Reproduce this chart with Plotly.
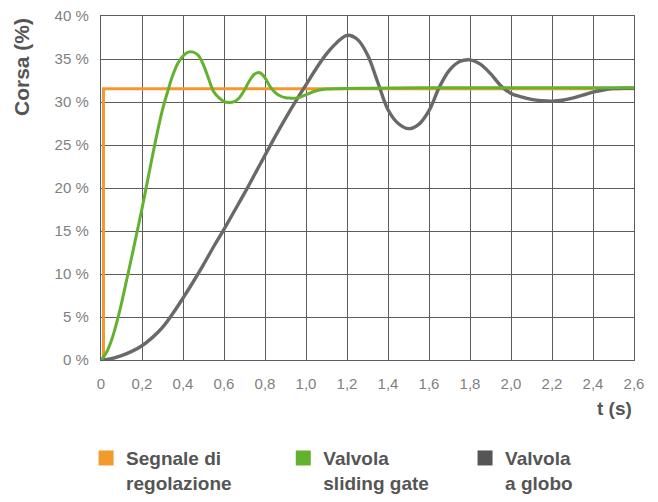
import plotly.graph_objects as go

# ---- data ----
t_signal = [0, 0.012, 0.012, 2.6]
v_signal = [0, 0, 31.55, 31.55]

t_gate = [0, 0.025, 0.05, 0.075, 0.1, 0.125, 0.15, 0.175, 0.2, 0.225, 0.25, 0.275,
          0.3, 0.325, 0.35, 0.375, 0.4, 0.425, 0.45, 0.475, 0.5, 0.525, 0.55, 0.575,
          0.6, 0.625, 0.65, 0.675, 0.7, 0.725, 0.75, 0.775, 0.8, 0.825, 0.85, 0.875,
          0.9, 0.925, 0.95, 0.975, 1.0, 1.05, 1.1, 1.15, 1.3, 1.6, 2.0, 2.6]
v_gate = [0, 0.8, 2.2, 4.2, 6.6, 9.3, 12.0, 14.8, 17.6, 20.6, 23.6, 26.5,
          29.1, 31.2, 33.1, 34.5, 35.35, 35.8, 35.8, 35.4, 34.3, 32.7, 31.2, 30.5,
          30.05, 29.95, 30.05, 30.5, 31.4, 32.5, 33.25, 33.4, 32.8, 31.8, 31.1, 30.7,
          30.5, 30.45, 30.45, 30.6, 30.85, 31.3, 31.5, 31.55, 31.6, 31.65, 31.65, 31.65]

t_globe = [0, 0.05, 0.1, 0.15, 0.2, 0.25, 0.3, 0.35, 0.4, 0.45, 0.5, 0.55, 0.6,
           0.65, 0.7, 0.75, 0.8, 0.85, 0.9, 0.95, 1.0, 1.05, 1.1, 1.15, 1.2, 1.25,
           1.3, 1.35, 1.4, 1.45, 1.5, 1.55, 1.6, 1.65, 1.7, 1.75, 1.8, 1.85, 1.9,
           1.95, 2.0, 2.05, 2.1, 2.15, 2.2, 2.25, 2.3, 2.35, 2.4, 2.45, 2.5, 2.55, 2.6]
v_globe = [0, 0.15, 0.5, 1.0, 1.66, 2.6, 3.8, 5.4, 7.2, 9.1, 11.1, 13.2, 15.2,
           17.3, 19.4, 21.6, 23.8, 26.0, 28.1, 30.1, 32.0, 33.9, 35.6, 36.9, 37.75, 37.3,
           35.5, 32.3, 29.1, 27.5, 26.9, 27.4, 29.0, 31.7, 33.7, 34.7, 34.9, 34.4, 33.3,
           31.9, 31.0, 30.6, 30.3, 30.15, 30.1, 30.2, 30.45, 30.8, 31.15, 31.4, 31.55, 31.6, 31.6]

x_ticks = [0, 0.2, 0.4, 0.6, 0.8, 1.0, 1.2, 1.4, 1.6, 1.8, 2.0, 2.2, 2.4, 2.6]
x_labels = ["0", "0,2", "0,4", "0,6", "0,8", "1,0", "1,2", "1,4", "1,6", "1,8",
            "2,0", "2,2", "2,4", "2,6"]
y_ticks = [0, 5, 10, 15, 20, 25, 30, 35, 40]
y_labels = ["0 %", "5 %", "10 %", "15 %", "20 %", "25 %", "30 %", "35 %", "40 %"]

names = ["Segnale di<br>regolazione", "Valvola<br>sliding gate", "Valvola<br>a globo"]
line_colors = ["#F7962E", "#62B22F", "#696969"]
legend_colors = ["#F39A2F", "#62B22F", "#555555"]

FONT = "Liberation Sans, Arial, sans-serif"
GRID = "#5c5c5c"

fig = go.Figure()

# lines (orange bottom, gray, green on top)
fig.add_trace(go.Scatter(x=t_signal, y=v_signal, mode="lines", showlegend=False,
                         legendgroup="s", line=dict(color=line_colors[0], width=3)))
fig.add_trace(go.Scatter(x=t_globe, y=v_globe, mode="lines", showlegend=False,
                         legendgroup="g", line=dict(color=line_colors[2], width=3.4,
                                                    shape="spline", smoothing=1)))
fig.add_trace(go.Scatter(x=t_gate, y=v_gate, mode="lines", showlegend=False,
                         legendgroup="v", line=dict(color=line_colors[1], width=3,
                                                    shape="spline", smoothing=1)))

# legend entries (square swatches)
for i, (nm, grp, lg) in enumerate(zip(names, ["s", "v", "g"], ["legend", "legend2", "legend3"])):
    fig.add_trace(go.Scatter(x=[None], y=[None], mode="markers", name=nm,
                             legendgroup=grp, legend=lg,
                             marker=dict(symbol="square", size=15, color=legend_colors[i])))

axis_common = dict(showgrid=True, gridcolor=GRID, gridwidth=1.4, showline=True,
                   linecolor=GRID, linewidth=1.4, mirror=True, zeroline=False,
                   ticks="", ticklabeloverflow="allow",
                   tickfont=dict(family=FONT, size=15, color="#7f7f7f"))

fig.update_xaxes(range=[0, 2.6], tickmode="array", tickvals=x_ticks, ticktext=x_labels,
                 ticklabelstandoff=10, **axis_common)
fig.update_yaxes(range=[0, 40], tickmode="array", tickvals=y_ticks, ticktext=y_labels,
                 ticklabelstandoff=8, **axis_common)

leg_font = dict(family=FONT, size=19, color="#555555", weight="bold")
leg_common = dict(orientation="h", yanchor="top", xanchor="left", y=-0.23,
                  font=leg_font, valign="top", bgcolor="rgba(0,0,0,0)", borderwidth=0,
                  itemclick=False, itemdoubleclick=False)

# the page adds an 8 px body margin, so the figure is 8 px smaller in each direction
fig.update_layout(
    width=650, height=494,
    margin=dict(l=93, r=24, t=8, b=142, autoexpand=False),
    paper_bgcolor="#ffffff", plot_bgcolor="#ffffff",
    legend=dict(x=-0.028, **leg_common),
    legend2=dict(x=0.342, **leg_common),
    legend3=dict(x=0.683, **leg_common),
    annotations=[
        dict(text="<b>Corsa (%)</b>", xref="paper", yref="paper", x=-0.148, y=0.852,
             textangle=-90, xanchor="center", yanchor="middle", showarrow=False,
             font=dict(family=FONT, size=21, color="#555555")),
        dict(text="<b>t (s)</b>", xref="paper", yref="paper", x=1.0, y=-0.142,
             xanchor="right", yanchor="middle", showarrow=False,
             font=dict(family=FONT, size=19, color="#555555")),
    ],
)

fig.write_html("out.html")
